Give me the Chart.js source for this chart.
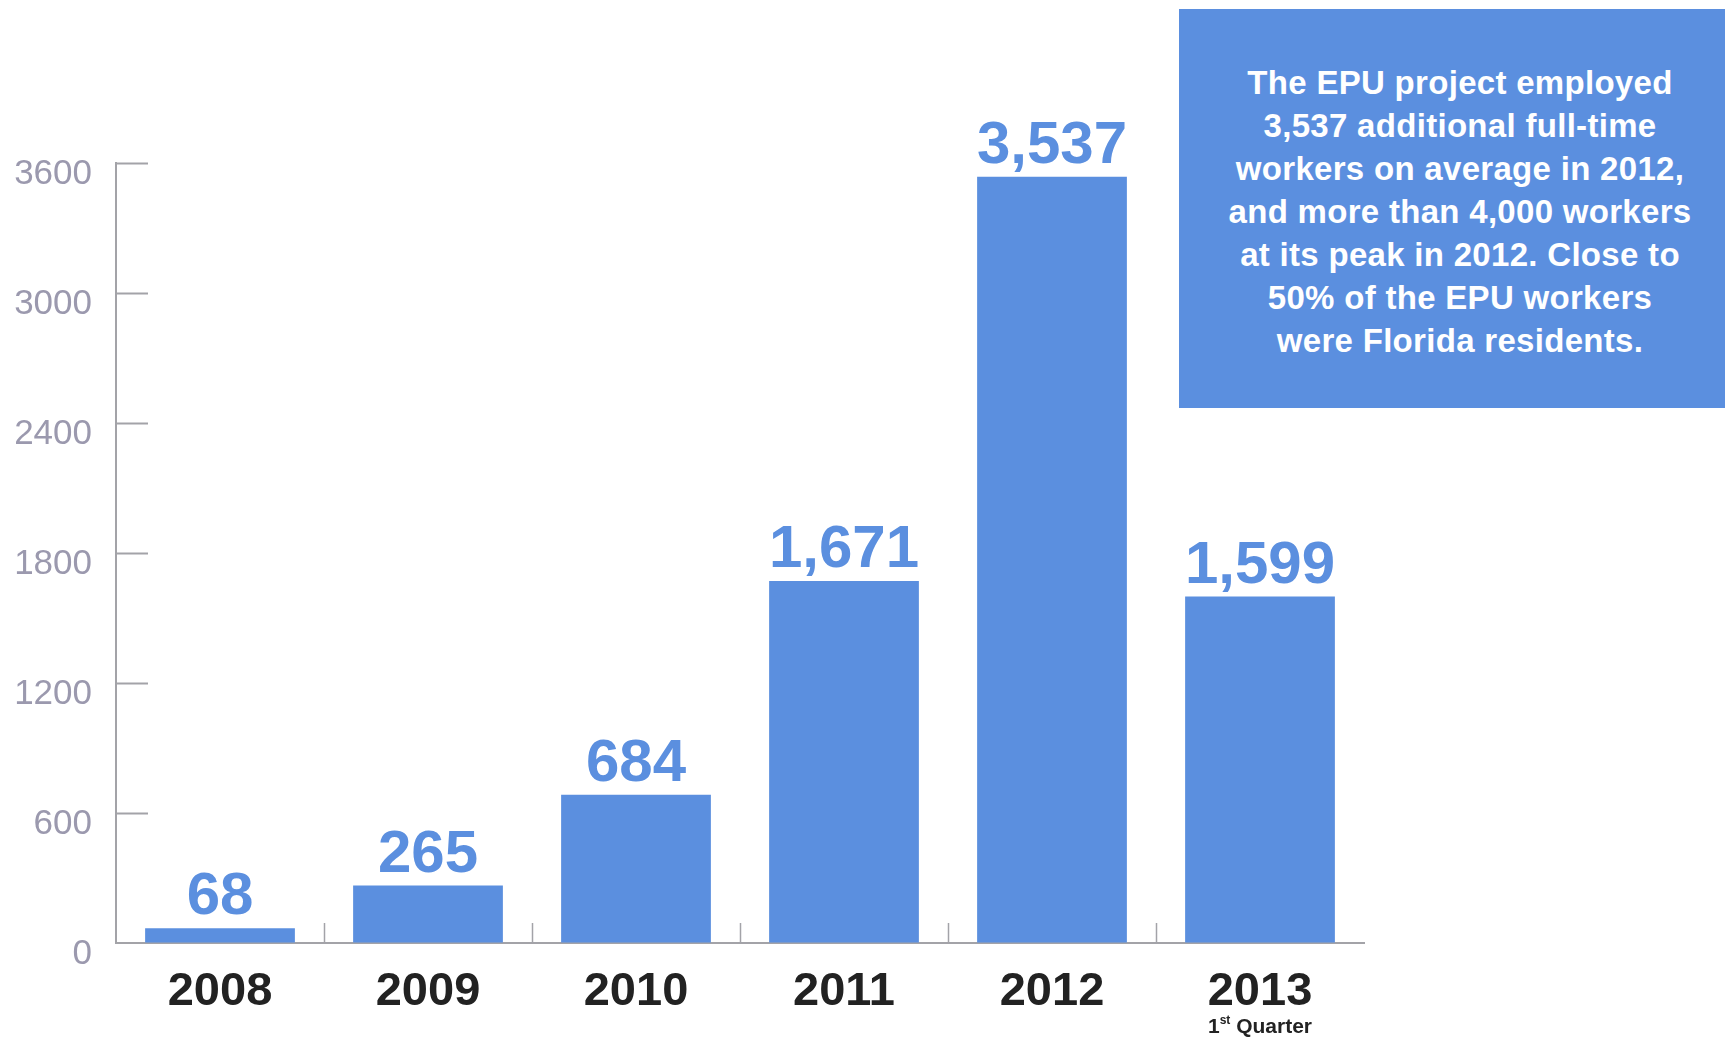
<!DOCTYPE html>
<html>
<head>
<meta charset="utf-8">
<script src="https://cdn.jsdelivr.net/npm/chart.js@4.4.1/dist/chart.umd.min.js"></script>
<style>
  body { margin: 0; background: #fff; }
  #wrap { position: relative; width: 1725px; height: 1037px; overflow: hidden; }
  #note {
    position: absolute; left: 1179px; top: 9px; width: 546px; height: 399px;
    background: #5b8fdf; color: #fff; box-sizing: border-box;
    padding: 52px 0 0 16px; text-align: center; white-space: nowrap;
    font: bold 33px/43px "Liberation Sans", Arial, Helvetica, sans-serif;
    letter-spacing: 0.3px;
  }
</style>
</head>
<body>
<div id="wrap">
  <canvas id="chart" width="1725" height="1037"></canvas>
  <div id="note">The EPU project employed<br>3,537 additional full-time<br>workers on average in 2012,<br>and more than 4,000 workers<br>at its peak in 2012. Close to<br>50% of the EPU workers<br>were Florida residents.</div>
</div>
<script>
var years = ['2008', '2009', '2010', '2011', '2012', '2013']
var workers = [68, 265, 684, 1671, 3537, 1599]
var subLabels = ['', '', '', '', '', '1st Quarter']
var yTicks = [0, 600, 1200, 1800, 2400, 3000, 3600]

var FONT = '"Liberation Sans", Arial, Helvetica, sans-serif'
var BLUE = '#5b8fdf'
var AXIS = '#a3a3a8'

var extras = {
    id: 'extras',
    afterDraw(chart) {
        var ctx = chart.ctx
        var area = chart.chartArea
        var x = chart.scales.x
        var y = chart.scales.y
        ctx.save()

        // y tick marks, pointing into the plot
        ctx.strokeStyle = AXIS
        ctx.lineWidth = 2
        yTicks.forEach(function(v) {
            if (v === 0) return
            var py = Math.round(y.getPixelForValue(v)) + 0.5
            ctx.beginPath()
            ctx.moveTo(area.left, py)
            ctx.lineTo(area.left + 32, py)
            ctx.stroke()
        })

        // x tick marks between categories, pointing up
        ctx.lineWidth = 1.5
        for (var i = 1; i < years.length; i++) {
            var px = Math.round((x.getPixelForValue(i - 1) + x.getPixelForValue(i)) / 2) + 0.5
            ctx.beginPath()
            ctx.moveTo(px, area.bottom)
            ctx.lineTo(px, area.bottom - 20)
            ctx.stroke()
        }

        // value labels above bars
        var meta = chart.getDatasetMeta(0)
        ctx.fillStyle = BLUE
        ctx.font = 'bold 60px ' + FONT
        ctx.textAlign = 'center'
        ctx.textBaseline = 'alphabetic'
        meta.data.forEach(function(bar, i) {
            ctx.fillText(workers[i].toLocaleString('en-US'), bar.x, bar.y - 14)
        })

        // sub labels under year
        ctx.fillStyle = '#222'
        subLabels.forEach(function(s, i) {
            if (!s) return
            var m = s.match(/^(\d+)(st|nd|rd|th)(.*)$/)
            var cx = x.getPixelForValue(i)
            var by = 1033
            if (!m) {
                ctx.font = 'bold 21px ' + FONT
                ctx.textAlign = 'center'
                ctx.fillText(s, cx, by)
                return
            }
            ctx.font = 'bold 21px ' + FONT
            var w1 = ctx.measureText(m[1]).width
            var w3 = ctx.measureText(m[3]).width
            ctx.font = 'bold 12px ' + FONT
            var w2 = ctx.measureText(m[2]).width
            var sx = cx - (w1 + w2 + w3) / 2
            ctx.textAlign = 'left'
            ctx.font = 'bold 21px ' + FONT
            ctx.fillText(m[1], sx, by)
            ctx.font = 'bold 12px ' + FONT
            ctx.fillText(m[2], sx + w1, by - 9)
            ctx.font = 'bold 21px ' + FONT
            ctx.fillText(m[3], sx + w1 + w2, by)
        })
        ctx.restore()
    }
}

new Chart(document.getElementById('chart'), {
    type: 'bar',
    data: {
        labels: years,
        datasets: [{
            data: workers,
            backgroundColor: BLUE,
            borderWidth: 0,
            categoryPercentage: 1,
            barPercentage: 0.72
        }]
    },
    options: {
        responsive: false,
        animation: false,
        devicePixelRatio: 1,
        layout: { padding: { top: 163, right: 361, left: 0, bottom: 0 } },
        plugins: { legend: { display: false }, tooltip: { enabled: false } },
        scales: {
            x: {
                afterFit: function(s) { s.height = 94 },
                grid: { display: true, drawOnChartArea: false, drawTicks: false },
                border: { display: true, color: AXIS, width: 2 },
                ticks: {
                    color: '#222',
                    padding: 21,
                    font: { family: FONT, size: 47, weight: 'bold' }
                }
            },
            y: {
                min: 0,
                max: 3600,
                afterFit: function(s) { s.width = 116 },
                afterBuildTicks: function(s) { s.ticks = yTicks.map(function(v) { return { value: v } }) },
                grid: { display: true, drawOnChartArea: false, drawTicks: false },
                border: { display: true, color: AXIS, width: 2 },
                ticks: {
                    color: '#9b99ae',
                    padding: 24,
                    labelOffset: 11,
                    font: { family: FONT, size: 35 },
                    callback: function(v) { return String(v) }
                }
            }
        }
    },
    plugins: [extras]
})
</script>
</body>
</html>
